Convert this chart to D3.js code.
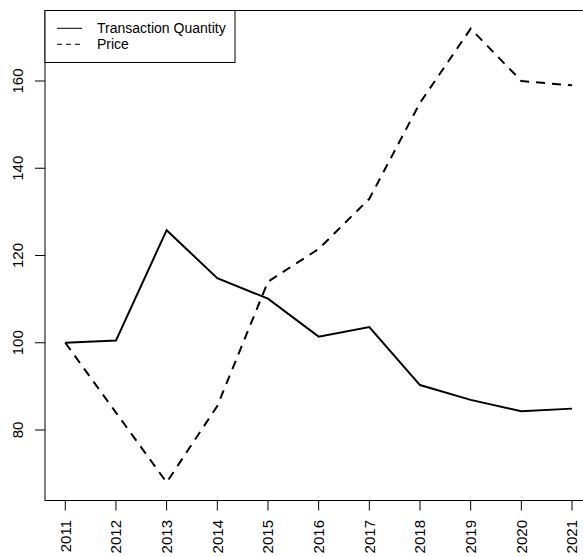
<!doctype html>
<html lang="en">
<head>
  <meta charset="utf-8">
  <title>Transaction Quantity and Price</title>
  <style>
   body { margin: 0; background: #fff; }
   svg text { font-family: "Liberation Sans", Arial, Helvetica, sans-serif; fill: #000; }
  </style>
</head>
<body>
  <svg id="chart" width="583" height="556" xmlns="http://www.w3.org/2000/svg"></svg>
  <script src="https://d3js.org/d3.v7.min.js"></script>
  <script>
   // index values, 2011 = 100
   var years = [2011, 2012, 2013, 2014, 2015, 2016, 2017, 2018, 2019, 2020, 2021];
   var quantity = [100, 100.5, 125.8, 114.8, 110.1, 101.4, 103.6, 90.3, 86.9, 84.3, 84.9];
   var price = [100, 84, 68, 85.5, 114, 121.5, 133, 155, 172, 160, 159];
   var yTicks = [80, 100, 120, 140, 160];
   var seriesNames = ["Transaction Quantity", "Price"];

   var svg = d3.select("#chart");

   // plot region (right edge falls outside the window, as in the original)
   var plotLeft = 45, plotTop = 10.5, plotBottom = 500.5, plotRight = 592.3;

   // R style 4% padding on both axes
   var xPad = (d3.max(years) - d3.min(years)) * 0.04;
   var allVals = quantity.concat(price);
   var yPad = (d3.max(allVals) - d3.min(allVals)) * 0.04;

   var x = d3.scaleLinear()
	     .domain([d3.min(years) - xPad, d3.max(years) + xPad])
	     .range([plotLeft, plotRight]);
   var y = d3.scaleLinear()
	     .domain([d3.min(allVals) - yPad, d3.max(allVals) + yPad])
	     .range([plotBottom, plotTop]);

   // frame
   svg.append("rect")
      .attr("x", plotLeft).attr("y", plotTop)
      .attr("width", plotRight - plotLeft).attr("height", plotBottom - plotTop)
      .attr("fill", "none").attr("stroke", "#000").attr("stroke-width", 1);

   // y axis
   var yAxis = svg.append("g").attr("class", "y-axis");
   yAxis.selectAll("line")
	.data(yTicks).enter()
	.append("line")
	.attr("x1", plotLeft - 10).attr("x2", plotLeft)
	.attr("y1", function(d) { return y(d); })
	.attr("y2", function(d) { return y(d); })
	.attr("stroke", "#000");
   yAxis.selectAll("text")
	.data(yTicks).enter()
	.append("text")
	.attr("transform", function(d) { return "translate(23," + y(d) + ") rotate(-90)"; })
	.attr("text-anchor", "middle")
	.style("font-size", "15px")
	.text(function(d) { return d; });

   // x axis
   var xAxis = svg.append("g").attr("class", "x-axis");
   xAxis.selectAll("line")
	.data(years).enter()
	.append("line")
	.attr("x1", function(d) { return x(d); })
	.attr("x2", function(d) { return x(d); })
	.attr("y1", plotBottom).attr("y2", plotBottom + 10)
	.attr("stroke", "#000");
   xAxis.selectAll("text")
	.data(years).enter()
	.append("text")
	.attr("transform", function(d) { return "translate(" + x(d) + "," + 520 + ") rotate(-90)"; })
	.attr("text-anchor", "end")
	.attr("dy", "0.35em")
	.style("font-size", "15px")
	.text(function(d) { return d; });

   // lines
   var line = d3.line()
		.x(function(d, i) { return x(years[i]); })
		.y(function(d) { return y(d); });

   svg.append("path")
      .datum(quantity)
      .attr("d", line)
      .attr("fill", "none")
      .attr("stroke", "#000")
      .attr("stroke-width", 2);

   svg.append("path")
      .datum(price)
      .attr("d", line)
      .attr("fill", "none")
      .attr("stroke", "#000")
      .attr("stroke-width", 2)
      .attr("stroke-dasharray", "9,7");

   // legend
   var legend = svg.append("g").attr("class", "legend");
   legend.append("rect")
	 .attr("x", plotLeft).attr("y", plotTop)
	 .attr("width", 190).attr("height", 52)
	 .attr("fill", "#fff").attr("stroke", "#000");
   var rows = legend.selectAll("g.row")
		    .data(seriesNames).enter()
		    .append("g")
		    .attr("class", "row")
		    .attr("transform", function(d, i) { return "translate(0," + (28.3 + i * 16) + ")"; });
   rows.append("line")
       .attr("x1", 57).attr("x2", 82)
       .attr("y1", 0).attr("y2", 0)
       .attr("stroke", "#000")
       .attr("stroke-dasharray", function(d, i) { return i == 1 ? "5,4" : null; });
   rows.append("text")
       .attr("x", 97)
       .attr("dy", "0.35em")
       .style("font-size", "14px")
       .text(function(d) { return d; });
  </script>
</body>
</html>
